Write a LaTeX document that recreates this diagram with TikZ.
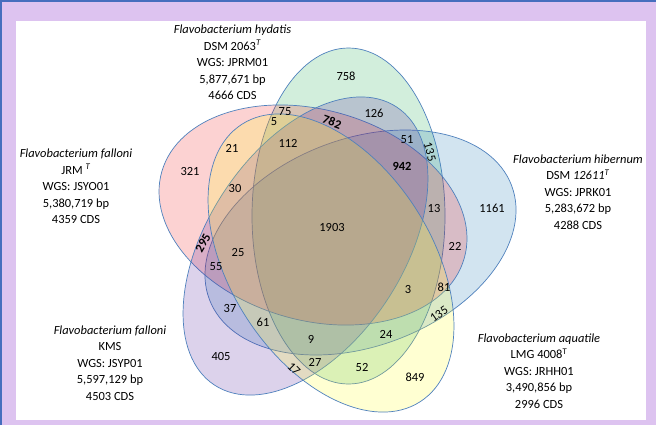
\documentclass[tikz,border=0pt]{standalone}
\usepackage{fontspec}
\setmainfont{Carlito}

\definecolor{framelilac}{RGB}{221,195,240}
\definecolor{frameedge}{RGB}{70,110,190}
\definecolor{setline}{RGB}{79,129,189}
\definecolor{hydatiscol}{RGB}{30,170,80}
\definecolor{hibernumcol}{RGB}{30,120,180}
\definecolor{jrmcol}{RGB}{240,30,30}
\definecolor{kmscol}{RGB}{80,30,155}
\definecolor{aquatilecol}{RGB}{255,255,30}

\tikzset{
  setshape/.style={draw=setline, line width=0.7bp, fill opacity=0.2},
  count/.style={font=\fontsize{12.5}{15}\selectfont, inner sep=0pt},
  strain/.style={align=center, font=\fontsize{12.5}{16.6}\selectfont, inner sep=0pt},
}

\begin{document}
\begin{tikzpicture}[x=1bp,y=-1bp]
        \useasboundingbox (0,0) rectangle (656,425);
        \fill[framelilac] (0,0) rectangle (656,425);
        \fill[white] (16,21) rectangle (646,420);
        \draw[frameedge, line width=1.5bp] (0.75,425) -- (0.75,0.75) -- (656,0.75);

        % the five sets
        \filldraw[setshape, fill=hydatiscol] (348.5,216) ellipse [x radius=96.5, y radius=168];
        \filldraw[setshape, fill=hibernumcol, rotate around={20.6:(360.5,242.5)}] (360.5,242.5) ellipse [x radius=161.5, y radius=103.7];
        \filldraw[setshape, fill=jrmcol, rotate around={-16:(313,215)}] (313,215) ellipse [x radius=157.3, y radius=105.2];
        \filldraw[setshape, fill=kmscol, rotate around={56.8:(305.5,246)}] (305.5,246) ellipse [x radius=166.2, y radius=97.9];
        \filldraw[setshape, fill=aquatilecol, rotate around={-57.3:(331,263)}] (331,263) ellipse [x radius=164.9, y radius=100.7];

        % strain labels
        \node[strain] (hydatis) at (232.5,62.5) {\textit{Flavobacterium hydatis}\\DSM 2063\textsuperscript{\textit{T}}\\WGS: JPRM01\\5,877,671 bp\\4666 CDS};
        \node[strain] (jrm) at (76,186.5) {\textit{Flavobacterium falloni}\\JRM \textsuperscript{\textit{T}}\\WGS: JSYO01\\5,380,719 bp\\4359 CDS};
        \node[strain] (hibernum) at (578,192) {\textit{Flavobacterium hibernum}\\DSM \textit{12611}\textsuperscript{\textit{T}}\\WGS: JPRK01\\5,283,672 bp\\4288 CDS};
        \node[strain] (kms) at (110,363) {\textit{Flavobacterium falloni}\\KMS\\WGS: JSYP01\\5,597,129 bp\\4503 CDS};
        \node[strain] (aquatile) at (539,371) {\textit{Flavobacterium aquatile}\\LMG 4008\textsuperscript{T}\\WGS: JRHH01\\3,490,856 bp\\2996 CDS};

        % region counts
        \node[count] (c758) at (346,76) {758};
        \node[count] (c126) at (374,113) {126};
        \node[count, rotate=-20] (c782) at (332,122) {\bfseries 782};
        \node[count] (c75) at (285,112) {75};
        \node[count] (c5) at (274,122) {5};
        \node[count] (c112) at (288,143) {112};
        \node[count] (c21) at (232,148) {21};
        \node[count] (c321) at (190,171) {321};
        \node[count] (c30) at (235,188) {30};
        \node[count, rotate=60] (c295) at (203,243) {\bfseries 295};
        \node[count] (c55) at (216,267) {55};
        \node[count] (c25) at (238,252) {25};
        \node[count] (c1903) at (332,227) {1903};
        \node[count] (c51) at (407,140) {51};
        \node[count, rotate=-75] (c135a) at (430,152) {135};
        \node[count] (c942) at (402,166) {\bfseries 942};
        \node[count] (c13) at (434,208) {13};
        \node[count] (c1161) at (492,208) {1161};
        \node[count] (c22) at (455,246) {22};
        \node[count] (c3) at (408,289) {3};
        \node[count] (c81) at (444,287) {81};
        \node[count, rotate=35] (c135b) at (439,314) {135};
        \node[count] (c24) at (386,334) {24};
        \node[count] (c9) at (311,339) {9};
        \node[count] (c27) at (315,362) {27};
        \node[count] (c52) at (362,367) {52};
        \node[count] (c849) at (415,377) {849};
        \node[count, rotate=-45] (c17) at (294,369) {17};
        \node[count] (c61) at (263,322) {61};
        \node[count] (c37) at (230,308) {37};
        \node[count] (c405) at (221,356) {405};

    \end{tikzpicture}
\end{document}
